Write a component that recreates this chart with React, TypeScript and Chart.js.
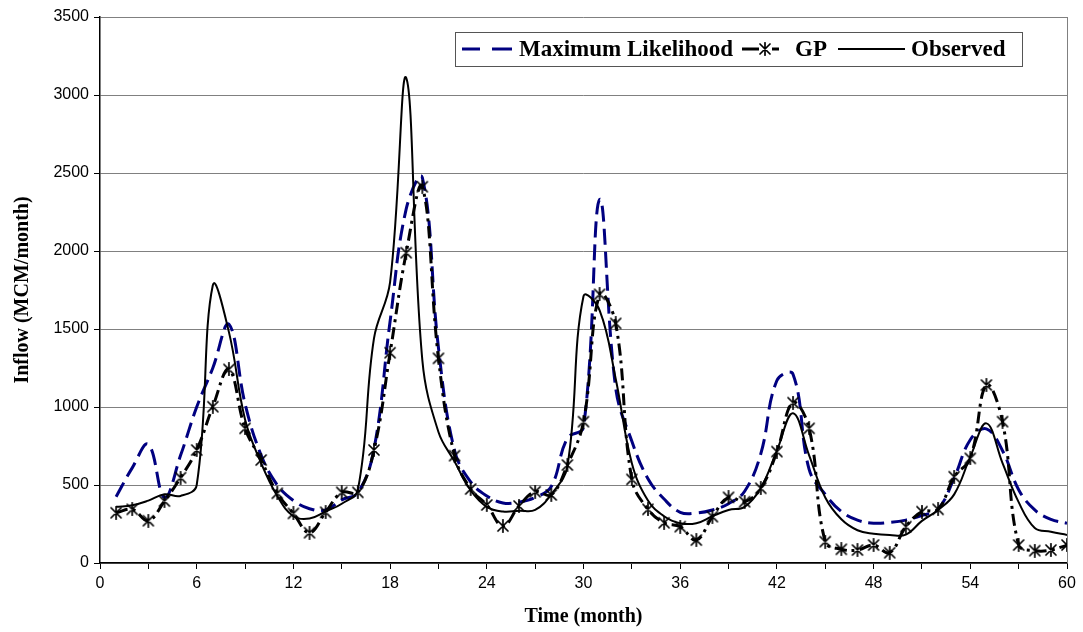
import React, { useEffect, useRef } from "react";
import { Chart, registerables } from "chart.js";

Chart.register(...registerables);

const MONTHS = [
  1, 2, 3, 4, 5, 6, 7, 8, 9, 10, 11, 12, 13, 14, 15, 16, 17, 18, 19, 20,
  21, 22, 23, 24, 25, 26, 27, 28, 29, 30, 31, 32, 33, 34, 35, 36, 37, 38, 39, 40,
  41, 42, 43, 44, 45, 46, 47, 48, 49, 50, 51, 52, 53, 54, 55, 56, 57, 58, 59, 60,
];

const MAX_LIKELIHOOD = [
  425, 610, 760, 420, 690, 1000, 1250, 1530, 1020, 690, 500, 400,
  348, 340, 405, 450, 730, 1550, 2270, 2470, 1380, 720, 520, 430,
  385, 390, 420, 490, 800, 870, 2330, 1120, 780, 540, 410, 325,
  320, 340, 380, 460, 700, 1170, 1210, 600, 440, 330, 275, 255,
  260, 275, 305, 345, 545, 790, 860, 720, 470, 340, 280, 255,
];

const GP = [
  322, 344, 271, 397, 547, 724, 1002, 1241, 863, 660, 447, 318,
  194, 325, 453, 453, 724, 1348, 1989, 2412, 1312, 688, 474, 372,
  237, 365, 457, 436, 628, 906, 1722, 1536, 536, 344, 258, 233,
  147, 297, 421, 393, 479, 714, 1028, 863, 137, 88, 83, 115,
  66, 233, 329, 344, 553, 671, 1141, 906, 115, 79, 83, 115,
];

const OBSERVED = [
  360, 370, 400, 440, 430, 500, 1780, 1480, 920, 640, 430, 300,
  285, 330, 380, 470, 1440, 1800, 3110, 1300, 840, 650, 465, 360,
  330, 335, 340, 440, 620, 1710, 1620, 1180, 640, 400, 300, 255,
  255, 300, 340, 360, 480, 720, 960, 690, 420, 280, 210, 188,
  180, 182, 270, 340, 440, 680, 895, 640, 390, 225, 200, 180,
];

const X_LABELS = [0, 6, 12, 18, 24, 30, 36, 42, 48, 54, 60];
const Y_MIN = 0;
const Y_MAX = 3500;
const Y_STEP = 500;
const SERIES_NAMES = ["Maximum Likelihood", "GP", "Observed"];
const X_TITLE = "Time (month)";
const Y_TITLE = "Inflow (MCM/month)";

const SERIF = '"Liberation Serif", "Times New Roman", serif';
const SANS = '"Liberation Sans", Arial, sans-serif';
const NAVY = "#000080";

function makeStar(): HTMLCanvasElement {
  const c = document.createElement("canvas");
  c.width = 14;
  c.height = 14;
  const g = c.getContext("2d")!;
  g.strokeStyle = "#000";
  g.lineWidth = 1.7;
  g.lineCap = "round";
  g.beginPath();
  g.moveTo(2, 2);
  g.lineTo(12, 12);
  g.moveTo(12, 2);
  g.lineTo(2, 12);
  g.moveTo(7, 0.8);
  g.lineTo(7, 13.2);
  g.stroke();
  return c;
}

let starImg: HTMLCanvasElement;

const overlayPlugin = {
  id: "overlay",
  afterDraw(chart: any) {
    const ctx: CanvasRenderingContext2D = chart.ctx;
    const { left, right, top, bottom } = chart.chartArea;
    ctx.save();
    // right border
    ctx.strokeStyle = "#808080";
    ctx.lineWidth = 1;
    ctx.beginPath();
    ctx.moveTo(Math.round(right) + 0.5, top);
    ctx.lineTo(Math.round(right) + 0.5, bottom);
    ctx.stroke();

    // axis titles
    ctx.fillStyle = "#000";
    ctx.font = `bold 20px ${SERIF}`;
    ctx.textAlign = "center";
    ctx.textBaseline = "alphabetic";
    ctx.fillText(X_TITLE, (left + right) / 2, 622);
    ctx.save();
    ctx.translate(28, (top + bottom) / 2);
    ctx.rotate(-Math.PI / 2);
    ctx.fillText(Y_TITLE, 0, 0);
    ctx.restore();

    // legend
    const bx = 455, by = 32, bw = 567, bh = 34;
    ctx.fillStyle = "#fff";
    ctx.fillRect(bx, by, bw, bh);
    ctx.strokeStyle = "#555";
    ctx.lineWidth = 1;
    ctx.strokeRect(bx + 0.5, by + 0.5, bw, bh);
    const ly = by + bh / 2;
    ctx.font = `bold 23px ${SERIF}`;
    ctx.textAlign = "left";
    ctx.textBaseline = "middle";
    ctx.fillStyle = "#000";

    // ML sample
    ctx.strokeStyle = NAVY;
    ctx.lineWidth = 3;
    ctx.beginPath();
    ctx.moveTo(462, ly);
    ctx.lineTo(480, ly);
    ctx.moveTo(492, ly);
    ctx.lineTo(512, ly);
    ctx.stroke();
    ctx.fillText(SERIES_NAMES[0], 519, ly + 1);

    // GP sample
    ctx.strokeStyle = "#000";
    ctx.beginPath();
    ctx.moveTo(742, ly);
    ctx.lineTo(759, ly);
    ctx.moveTo(772, ly);
    ctx.lineTo(779, ly);
    ctx.stroke();
    ctx.drawImage(starImg, 765 - 7, ly - 7);
    ctx.fillText(SERIES_NAMES[1], 795, ly + 1);

    // Observed sample
    ctx.lineWidth = 2;
    ctx.beginPath();
    ctx.moveTo(838, ly);
    ctx.lineTo(905, ly);
    ctx.stroke();
    ctx.fillText(SERIES_NAMES[2], 911, ly + 1);

    ctx.restore();
  },
};

export default function App() {
  const canvasRef = useRef<HTMLCanvasElement | null>(null);

  useEffect(() => {
    document.body.style.margin = "0";
    if (!starImg) starImg = makeStar();
    const canvas = canvasRef.current!;
    const toPoints = (arr: number[]) => MONTHS.map((m, i) => ({ x: m, y: arr[i] }));

    const chart = new Chart(canvas, {
      type: "line",
      data: {
        datasets: [
          {
            label: SERIES_NAMES[2],
            data: toPoints(OBSERVED),
            borderColor: "#000",
            borderWidth: 2,
            pointRadius: 0,
            tension: 0.4,
            fill: false,
          },
          {
            label: SERIES_NAMES[1],
            data: toPoints(GP),
            borderColor: "#000",
            borderWidth: 3,
            borderDash: [12, 5, 3, 5],
            pointStyle: starImg as any,
            pointRadius: 7,
            tension: 0.4,
            fill: false,
          },
          {
            label: SERIES_NAMES[0],
            data: toPoints(MAX_LIKELIHOOD),
            borderColor: NAVY,
            borderWidth: 3,
            borderDash: [16, 7],
            pointRadius: 0,
            tension: 0.4,
            fill: false,
          },
        ],
      },
      options: {
        responsive: false,
        maintainAspectRatio: false,
        devicePixelRatio: 1,
        animation: false,
        layout: { padding: { left: 0, right: 16, top: 17, bottom: 0 } },
        plugins: {
          legend: { display: false },
          tooltip: { enabled: false },
          title: { display: false },
        },
        scales: {
          x: {
            type: "linear",
            min: 0,
            max: 60,
            afterFit: (s: any) => {
              s.height = 69;
            },
            ticks: {
              stepSize: 3,
              autoSkip: false,
              maxRotation: 0,
              padding: 5,
              color: "#000",
              font: { family: SANS, size: 16 },
              callback: (v: any) => (X_LABELS.includes(Number(v)) ? String(v) : ""),
            },
            grid: {
              drawOnChartArea: false,
              drawTicks: true,
              tickLength: 6,
              color: "#000",
              tickColor: "#000",
            },
            border: { color: "#000", width: 1.5 },
          },
          y: {
            min: Y_MIN,
            max: Y_MAX,
            afterFit: (s: any) => {
              s.width = 100;
            },
            ticks: {
              stepSize: Y_STEP,
              padding: 5,
              color: "#000",
              font: { family: SANS, size: 16 },
              callback: (v: any) => String(v),
            },
            grid: {
              color: "#808080",
              lineWidth: 1,
              tickColor: "#000",
              tickLength: 6,
            },
            border: { color: "#000", width: 1.5 },
          },
        },
      },
      plugins: [overlayPlugin],
    });
    return () => chart.destroy();
  }, []);

  return (
    <div style={{ width: 1083, height: 632 }}>
      <canvas ref={canvasRef} width={1083} height={632} />
    </div>
  );
}
